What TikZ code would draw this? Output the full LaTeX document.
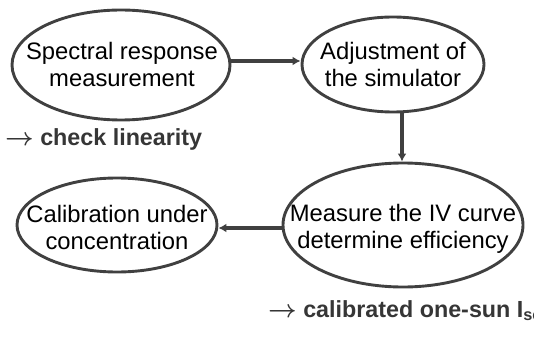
\documentclass[tikz,border=0pt]{standalone}
\usepackage{fontspec}
\setmainfont{Liberation Sans}
\usetikzlibrary{shapes.geometric,arrows.meta}
\definecolor{linegray}{HTML}{404040}
\definecolor{notegray}{HTML}{363636}
\begin{document}
\begin{tikzpicture}[x=1pt,y=-1pt,
  stage/.style={ellipse,draw=linegray,line width=2.9pt,inner sep=0pt},
  caption/.style={align=center,inner sep=0pt,text=black,
    font=\fontsize{23.8}{27}\selectfont},
  flow/.style={draw=linegray,line width=3.4pt,
    -{Latex[length=8pt,width=9pt]}},
  note/.style={anchor=base west,inner sep=0pt,text=notegray,
    font=\fontsize{23.3}{27}\selectfont\bfseries\boldmath}]
\useasboundingbox (0,0) rectangle (534,339);
\clip (0,0) rectangle (534,339);
% the four stages: outline first, then its two-line caption
\node[stage,minimum width=218pt,minimum height=110pt] (sr) at (121,65) {};
\node[caption] (srt) at (122,64) {Spectral response\\measurement};
\node[stage,minimum width=182pt,minimum height=95pt] (adj) at (393,64.5) {};
\node[caption] (adjt) at (393,64) {Adjustment of\\the simulator};
\node[stage,minimum width=240pt,minimum height=124pt] (iv) at (403,225) {};
\node[caption] (ivt) at (403,229) {Measure the IV curve\\determine efficiency};
\node[stage,minimum width=200pt,minimum height=94pt] (cal) at (117,225) {};
\node[caption] (calt) at (117,227) {Calibration under\\concentration};
% side notes
\node[note] (lin) at (5,146) {\(\rightarrow\) check linearity};
\node[note] (isc) at (268,317) {\(\rightarrow\) calibrated one-sun I\textsubscript{sc}};
% flow between stages
\draw[flow] (sr.east |- 0,61) -- (adj.west |- 0,61);
\draw[flow] (adj.south -| 402,0) -- (iv.north -| 402,0);
\draw[flow] (iv.west |- 0,228) -- (cal.east |- 0,228);
\end{tikzpicture}
\end{document}
